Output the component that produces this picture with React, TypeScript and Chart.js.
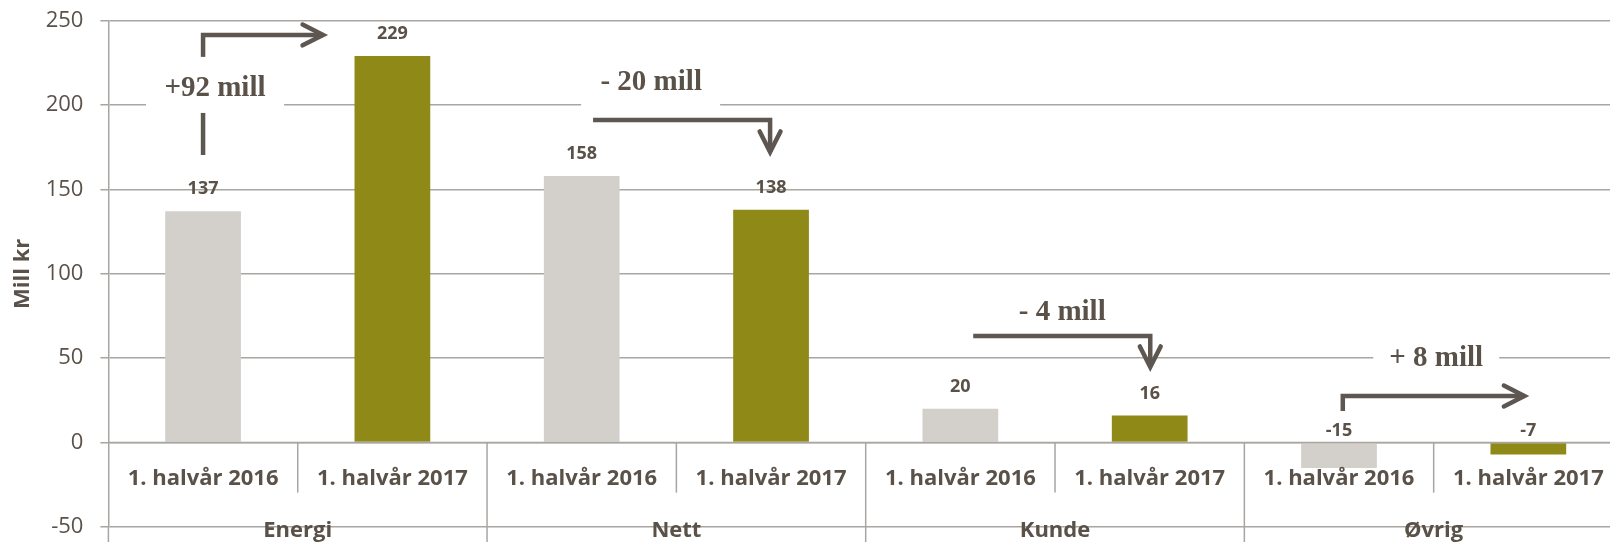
import React, { useEffect, useRef } from 'react';
import { Chart, registerables } from 'chart.js';

Chart.register(...registerables);

// ---- data ----
const categories = [
  '1. halvår 2016', '1. halvår 2017',
  '1. halvår 2016', '1. halvår 2017',
  '1. halvår 2016', '1. halvår 2017',
  '1. halvår 2016', '1. halvår 2017',
];
const groups = ['Energi', 'Nett', 'Kunde', 'Øvrig'];
const values = [137, 229, 158, 138, 20, 16, -15, -7];
const valueLabels = ['137', '229', '158', '138', '20', '16', '-15', '-7'];
const yMin = -50;
const yMax = 250;
const yStep = 50;
const yTitle = 'Mill kr';
const changeTexts = ['+92 mill', '- 20 mill', '- 4 mill', '+ 8 mill'];

// ---- styles ----
const GRAY = '#D3D0CB';
const OLIVE = '#8F8A17';
const TEXT = '#5A5149';
const GRID = '#A9A5A1';
const ARROW = '#5E5650';
const SANS = '"Open Sans"';

// annotation geometry in data units (x: category index, y: value)
const annotations = [
  { x: 0.063, y: 205.1, box: [-0.301, 0.428, 195.3, 228.5], path: [[0, 170.4], [0, 241.5], [0.634, 241.5]] },
  { x: 2.367, y: 208.9, box: [1.997, 2.731, 198.3, 231.4], path: [[2.06, 191.1], [2.995, 191.1], [2.995, 172.2]] },
  { x: 4.538, y: 72.6, box: null as null | number[], path: [[4.068, 63.1], [5.003, 63.1], [5.003, 44.8]] },
  { x: 6.513, y: 45.4, box: [6.181, 6.846, 35.3, 68.5], path: [[6.02, 18.7], [6.02, 27.6], [6.979, 27.6]] },
];

const overlay = {
  id: 'overlay',
  afterDatasetsDraw(chart: any) {
    const { ctx, chartArea, scales } = chart;
    const x = scales.x;
    const y = scales.y;
    const H = chart.height;
    const y0 = y.getPixelForValue(0);
    ctx.save();

    const line = (x1: number, y1: number, x2: number, y2: number) => {
      ctx.beginPath();
      ctx.moveTo(x1, y1);
      ctx.lineTo(x2, y2);
      ctx.stroke();
    };

    // axis lines / separators
    ctx.strokeStyle = GRID;
    ctx.lineWidth = 1.5;
    line(chartArea.left, y0, chartArea.right, y0);
    line(chartArea.left, chartArea.bottom, chartArea.left, H);
    for (let k = 1; k < categories.length; k++) {
      const bx = x.getPixelForValue(k - 0.5);
      line(bx, y0, bx, k % 2 === 0 ? H : y0 + 50);
    }

    // category labels
    ctx.fillStyle = TEXT;
    ctx.textAlign = 'center';
    ctx.textBaseline = 'alphabetic';
    ctx.font = `bold 22px ${SANS}`;
    categories.forEach((c, i) => ctx.fillText(c, x.getPixelForValue(i), y0 + 42.4));
    groups.forEach((g, gi) => ctx.fillText(g, x.getPixelForValue(gi * 2 + 0.5), chartArea.bottom + 10));

    // value labels
    ctx.font = `bold 18px ${SANS}`;
    const meta = chart.getDatasetMeta(0);
    meta.data.forEach((bar: any, i: number) => {
      const v = values[i];
      const yy = v >= 0 ? y.getPixelForValue(v) - 17 : y0 - 7;
      ctx.fillText(valueLabels[i], bar.x, yy);
    });

    // y title
    ctx.save();
    ctx.font = `bold 22px ${SANS}`;
    ctx.translate(29.3, (chartArea.top + chartArea.bottom) / 2);
    ctx.rotate(-Math.PI / 2);
    ctx.fillText(yTitle, 0, 0);
    ctx.restore();

    // annotation arrows
    ctx.strokeStyle = ARROW;
    ctx.lineWidth = 4.5;
    ctx.lineJoin = 'miter';
    ctx.lineCap = 'butt';
    annotations.forEach((a) => {
      const pts = a.path.map(([px, py]) => [x.getPixelForValue(px), y.getPixelForValue(py)]);
      ctx.beginPath();
      pts.forEach(([px, py], i) => (i === 0 ? ctx.moveTo(px, py) : ctx.lineTo(px, py)));
      ctx.stroke();
      const [tx, ty] = pts[pts.length - 1];
      const [sx, sy] = pts[pts.length - 2];
      const ang = Math.atan2(ty - sy, tx - sx);
      const L = 23;
      const spread = 0.47;
      ctx.beginPath();
      ctx.moveTo(tx - L * Math.cos(ang - spread), ty - L * Math.sin(ang - spread));
      ctx.lineTo(tx, ty);
      ctx.lineTo(tx - L * Math.cos(ang + spread), ty - L * Math.sin(ang + spread));
      ctx.lineCap = 'round';
      ctx.stroke();
      ctx.lineCap = 'butt';
    });

    // annotation boxes and texts
    annotations.forEach((a, i) => {
      if (a.box) {
        const bx1 = x.getPixelForValue(a.box[0]);
        const bx2 = x.getPixelForValue(a.box[1]);
        const by1 = y.getPixelForValue(a.box[3]);
        const by2 = y.getPixelForValue(a.box[2]);
        ctx.fillStyle = '#FFFFFF';
        ctx.fillRect(bx1, by1, bx2 - bx1, by2 - by1);
      }
      ctx.fillStyle = TEXT;
      ctx.font = 'bold 29px "Liberation Serif"';
      ctx.textAlign = 'center';
      ctx.fillText(changeTexts[i], x.getPixelForValue(a.x), y.getPixelForValue(a.y));
    });

    ctx.restore();
  },
};

export default function App() {
  const ref = useRef<HTMLCanvasElement>(null);
  useEffect(() => {
    if (!ref.current) return;
    const chart = new Chart(ref.current, {
      type: 'bar',
      data: {
        labels: categories,
        datasets: [
          {
            data: values,
            backgroundColor: values.map((_, i) => (i % 2 === 0 ? GRAY : OLIVE)),
            borderWidth: 0,
            barPercentage: 0.4,
            categoryPercentage: 1,
          },
        ],
      },
      options: {
        animation: false,
        responsive: false,
        devicePixelRatio: 1,
        layout: { padding: { top: 20.6, bottom: 15, left: 0, right: 0 } },
        plugins: {
          legend: { display: false },
          tooltip: { enabled: false },
        },
        scales: {
          x: { display: false, offset: true },
          y: {
            min: yMin,
            max: yMax,
            afterFit: (s: any) => {
              s.width = 108.4;
              s.paddingTop = 0;
              s.paddingBottom = 0;
            },
            ticks: {
              stepSize: yStep,
              font: { family: SANS, size: 22 },
              color: TEXT,
              padding: 17,
            },
            grid: { color: GRID, lineWidth: 1.5, tickLength: 8, drawTicks: true },
            border: { color: GRID, width: 1.5 },
          },
        },
      },
      plugins: [overlay],
    });
    let alive = true;
    if ((document as any).fonts) {
      Promise.all([
        document.fonts.load(`22px ${SANS}`),
        document.fonts.load(`bold 22px ${SANS}`),
        document.fonts.load('bold 29px "Liberation Serif"'),
      ]).then(() => {
        if (alive) chart.update();
      }).catch(() => {});
    }
    return () => {
      alive = false;
      chart.destroy();
    };
  }, []);
  return (
    <div
      style={{
        position: 'absolute',
        left: 0,
        top: 0,
        width: 1610,
        height: 542,
        overflow: 'hidden',
        background: '#fff',
      }}
    >
      <canvas ref={ref} width={1623} height={542} style={{ display: 'block' }} />
    </div>
  );
}
